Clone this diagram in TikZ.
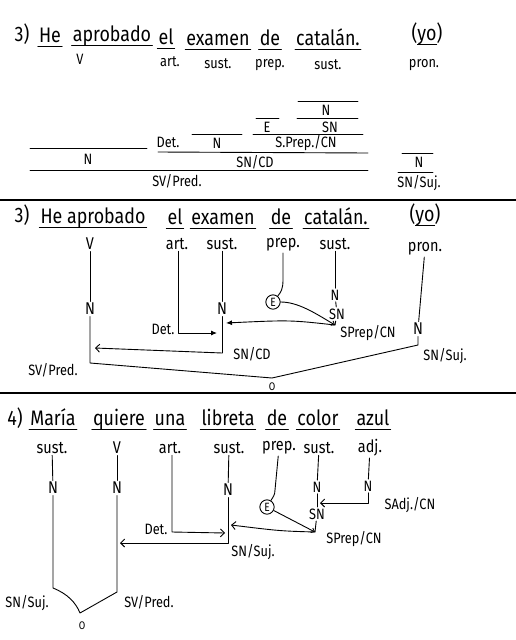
\documentclass[tikz,border=0pt]{standalone}
\usepackage{fontspec}
\setmainfont{Fira Sans}[FakeStretch=0.85]
\usetikzlibrary{arrows.meta}
\tikzset{
  ln/.style={line width=0.9pt, line cap=round, line join=round},
  sent/.style={font=\fontsize{21}{24}\selectfont, inner sep=1pt, anchor=base},
  lab/.style={font=\fontsize{17}{19}\selectfont, inner sep=1.5pt},
  slab/.style={font=\fontsize{15}{17}\selectfont, inner sep=1.5pt},
  tl/.style={font=\fontsize{15}{17}\selectfont, inner sep=1.5pt},
  onode/.style={font=\fontsize{11}{13}\selectfont, inner sep=1pt},
  oarr/.style={-{Straight Barb[length=4pt,width=8pt]}},
  sarr/.style={-{Straight Barb[length=3pt,width=5pt]}},
  farr/.style={-{Latex[length=6pt,width=5pt]}},
  circ/.style={circle, draw, line width=0.9pt, inner sep=1.6pt, font=\fontsize{12}{14}\selectfont},
  sep/.style={line width=1.2pt},
}
\newcommand{\uw}[4]{%
  \node[sent] (#1) at (#2,#3) {#4};
  \draw[ln] ([yshift=-4pt]#1.base west) -- ([yshift=-4pt]#1.base east);}
\begin{document}
\begin{tikzpicture}[x=1pt,y=-1pt]
\useasboundingbox (0,0) rectangle (516,640);
\fill[white] (0,0) rectangle (516,640);

% ---------------- Section 1 ----------------
\node[sent] (s1num) at (22,41) {3)};
\uw{s1he}{50}{42}{He}
\uw{s1apr}{112}{41}{aprobado}
\uw{s1el}{166}{44}{el}
\uw{s1ex}{218}{45}{examen}
\uw{s1de}{270}{45}{de}
\uw{s1cat}{328}{45}{catalán.}
\node[sent] (s1yo) at (427,40) {(yo)};
\draw[ln] ([yshift=-4pt,xshift=7pt]s1yo.base west) -- ([yshift=-4pt,xshift=-7pt]s1yo.base east);

\node[slab] (s1v) at (80,59) {V};
\node[slab] (s1art) at (170,62) {art.};
\node[slab] (s1sus1) at (218,64) {sust.};
\node[slab] (s1prep) at (270,65) {prep.};
\node[slab] (s1sus2) at (328,65) {sust.};
\node[slab] (s1pron) at (424,65) {pron.};

\draw[ln] (298,101) -- (358,101);
\node[tl] (t1n1) at (326,110) {N};
\draw[ln] (297,118) -- (358,118);
\node[tl] (t1sn) at (330,127) {SN};
\draw[ln] (256,118) -- (279,118);
\node[tl] (t1e) at (267,127) {E};
\draw[ln] (253,134) -- (363,134);
\node[tl] (t1sp) at (306,143) {S.Prep./CN};
\draw[ln] (192,134) -- (242,134);
\node[tl] (t1n2) at (217,143) {N};
\node[tl] (t1det) at (168,142) {Det.};
\draw[ln] (158,152) -- (368,153);
\node[tl] (t1sncd) at (255,162) {SN/CD};
\draw[ln] (30,148) -- (147,148);
\node[tl] (t1n3) at (88,159) {N};
\draw[ln] (30,170) -- (368,170);
\node[tl] (t1sv) at (177,181) {SV/Pred.};
\draw[ln] (402,153) -- (433,153);
\node[tl] (t1n4) at (419,162) {N};
\draw[ln] (398,172) -- (433,172);
\node[tl] (t1snsuj) at (419,183) {SN/Suj.};

\draw[sep] (0,200) -- (516,200);

% ---------------- Section 2 ----------------
\node[sent] (s2num) at (22,222) {3)};
\uw{s2hap}{93}{223}{He aprobado}
\uw{s2el}{175}{224}{el}
\uw{s2ex}{223}{224}{examen}
\uw{s2de}{281}{224}{de}
\uw{s2cat}{336}{224}{catalán.}
\node[sent] (s2yo) at (425,221) {(yo)};
\draw[ln] ([yshift=-4pt,xshift=7pt]s2yo.base west) -- ([yshift=-4pt,xshift=-7pt]s2yo.base east);

\node[lab] (s2v) at (90,244) {V};
\node[lab] (s2art) at (177,244) {art.};
\node[lab] (s2sus1) at (222,244) {sust.};
\node[lab] (s2prep) at (283,245) {prep.};
\node[lab] (s2sus2) at (335,244) {sust.};
\node[lab] (s2pron) at (425,249) {pron.};

\node[lab] (s2nv) at (90,309) {N};
\node[lab] (s2nsus) at (222,309) {N};
\node[circ] (s2e) at (273,302) {E};
\node[tl] (s2ncat) at (335,295) {N};
\node[tl] (s2sn) at (337,314) {SN};
\node[lab] (s2npron) at (418,329) {N};
\coordinate (s2snend) at (335,325);
\coordinate (s2artc) at (178,333);
\coordinate (s2artend) at (217,333);
\coordinate (s2susc) at (222,353);
\coordinate (s2varr) at (95,348);
\coordinate (s2cnarr) at (226,323);
\coordinate (s2vc) at (90,363);
\coordinate (s2pc) at (418,345);
\coordinate (s2o) at (272,378);
\coordinate (s2prepc) at (283,280);
\node[onode] (s2O) at (272,387) {O};
\node[tl] (s2det) at (163,329) {Det.};
\node[tl] (s2sncd) at (252,354) {SN/CD};
\node[tl] (s2sprep) at (368,333) {SPrep/CN};
\node[tl] (s2snsuj) at (445,356) {SN/Suj.};
\node[tl] (s2svp) at (53,370) {SV/Pred.};

\draw[ln] (s2v) -- (s2nv);
\draw[ln] (s2nv) -- (s2vc) -- (s2o) -- (s2pc) -- (s2npron);
\draw[ln] (s2pron) -- (s2npron);
\draw[ln,farr] (s2artc |- s2art.south) -- (s2artc) -- (s2artend);
\draw[ln] (s2sus1) -- (s2nsus);
\draw[ln] (s2nsus) -- (s2susc);
\draw[ln,oarr] (s2susc) -- (s2varr);
\draw[ln] (s2prep) -- (s2prepc) .. controls (283,289) and (281,292) .. (s2e);
\draw[ln,sarr] (s2e) .. controls (298,302) and (315,313) .. (s2snend);
\draw[ln] (s2sus2) -- (s2ncat);
\draw[ln] (s2ncat) -- (s2sn);
\draw[ln] (s2sn) -- (s2snend);
\draw[ln,farr] (s2snend) .. controls (290,320) .. (s2cnarr);

\draw[sep] (0,393) -- (516,393);

% ---------------- Section 3 ----------------
\node[sent] (s3num) at (15,425) {4)};
\uw{s3mar}{53}{425}{María}
\uw{s3qui}{119}{425}{quiere}
\uw{s3una}{170}{425}{una}
\uw{s3lib}{228}{425}{libreta}
\uw{s3de}{277}{425}{de}
\uw{s3col}{318}{425}{color}
\uw{s3azu}{373}{425}{azul}

\node[lab] (s3sus1) at (52,448) {sust.};
\node[lab] (s3v) at (117,448) {V};
\node[lab] (s3art) at (170,448) {art.};
\node[lab] (s3sus2) at (229,448) {sust.};
\node[lab] (s3prep) at (279,448) {prep.};
\node[lab] (s3sus3) at (319,448) {sust.};
\node[lab] (s3adj) at (370,448) {adj.};

\node[lab] (s3n1) at (53,488) {N};
\node[lab] (s3n2) at (117,488) {N};
\node[lab] (s3n3) at (228,490) {N};
\node[circ] (s3e) at (267,507) {E};
\node[tl] (s3n4) at (317,487) {N};
\node[tl] (s3sn) at (317,514) {SN};
\node[tl] (s3n5) at (368,486) {N};
\coordinate (s3c1) at (53,588);
\coordinate (s3c2) at (117,592);
\coordinate (s3o) at (80,613);
\coordinate (s3artc) at (172,532);
\coordinate (s3artend) at (225,533);
\coordinate (s3susc) at (228,543);
\coordinate (s3susend) at (120,543);
\coordinate (s3snend) at (315,532);
\coordinate (s3arrend) at (231,525);
\coordinate (s3adjc) at (368,503);
\coordinate (s3adjend) at (320,503);
\coordinate (s3prepc) at (275,490);
\node[onode] (s3O) at (82,626) {O};
\node[tl] (s3snsuj1) at (27,603) {SN/Suj.};
\node[tl] (s3svp) at (149,602) {SV/Pred.};
\node[tl] (s3det) at (156,529) {Det.};
\node[tl] (s3snsuj2) at (253,552) {SN/Suj.};
\node[tl] (s3sprep) at (354,539) {SPrep/CN};
\node[tl] (s3sadj) at (410,505) {SAdj./CN};

\draw[ln] (s3sus1) -- (s3n1);
\draw[ln] (s3n1) -- (s3c1) .. controls (68,594) and (76,603) .. (s3o) -- (s3c2) -- (s3n2);
\draw[ln] (s3v) -- (s3n2);
\draw[ln,oarr] (s3artc |- s3art.south) -- (s3artc) -- (s3artend);
\draw[ln] (s3sus2) -- (s3n3);
\draw[ln,oarr] (s3n3) -- (s3susc) -- (s3susend);
\draw[ln] (s3prep) -- (s3prepc) .. controls (275,495) and (273,497) .. (s3e);
\draw[ln,sarr] (s3e) -- (s3snend);
\draw[ln] (s3sus3) -- (s3n4);
\draw[ln] (s3n4) -- (s3sn);
\draw[ln] (s3sn) -- (s3snend);
\draw[ln,oarr] (s3snend) .. controls (280,531) .. (s3arrend);
\draw[ln] (s3adj) -- (s3n5);
\draw[ln,oarr] (s3n5) -- (s3adjc) -- (s3adjend);
\end{tikzpicture}
\end{document}
